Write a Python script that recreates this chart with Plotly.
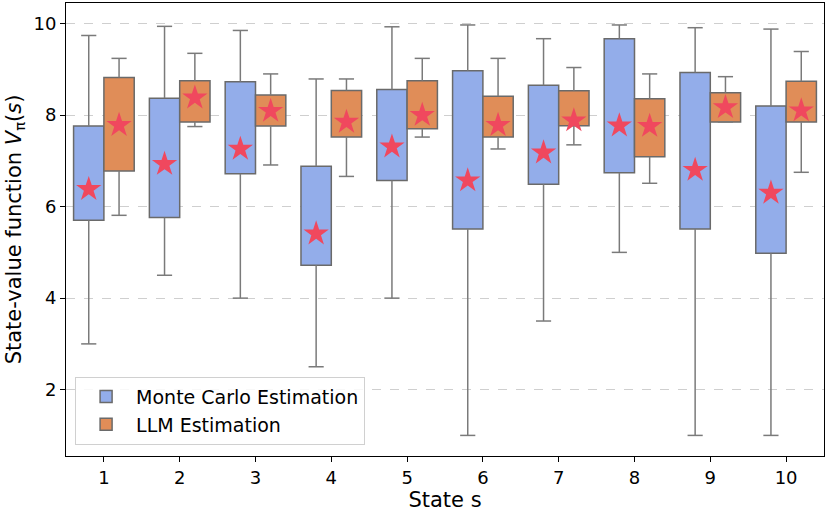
import plotly.graph_objects as go

states = [1, 2, 3, 4, 5, 6, 7, 8, 9, 10]

mc_lower = [3.0, 4.5, 4.0, 2.5, 4.0, 1.0, 3.5, 5.0, 1.0, 1.0]
mc_q1 = [5.70, 5.76, 6.72, 4.72, 6.57, 5.51, 6.49, 6.74, 5.51, 4.98]
mc_q3 = [7.76, 8.37, 8.73, 6.88, 8.56, 8.97, 8.65, 9.67, 8.93, 8.20]
mc_upper = [9.74, 9.94, 9.85, 8.79, 9.93, 9.97, 9.67, 9.97, 9.91, 9.88]
mc_mean = [6.38, 6.93, 7.26, 5.41, 7.31, 6.57, 7.18, 7.77, 6.80, 6.30]

llm_lower = [5.81, 7.75, 6.91, 6.66, 7.52, 7.26, 7.35, 6.51, 7.85, 6.75]
llm_q1 = [6.78, 7.85, 7.76, 7.52, 7.70, 7.52, 7.77, 7.09, 7.85, 7.85]
llm_q3 = [8.82, 8.75, 8.44, 8.54, 8.75, 8.41, 8.53, 8.36, 8.49, 8.74]
llm_upper = [9.24, 9.35, 8.90, 8.79, 9.24, 9.24, 9.04, 8.90, 8.84, 9.39]
llm_mean = [7.78, 8.38, 8.09, 7.85, 8.00, 7.78, 7.88, 7.76, 8.17, 8.10]

BOX_W = 0.4
CAP_W = 0.2
EDGE = "#6a6a6a"
WHISK = "#7a7a7a"

fig = go.Figure()


def add_series(name, color, lower, q1, q3, upper, mean, shift):
    xs = [s + shift for s in states]
    wx, wy = [], []
    for x, lo, a, b, hi in zip(xs, lower, q1, q3, upper):
        wx += [x, x, None, x, x, None,
               x - CAP_W / 2, x + CAP_W / 2, None, x - CAP_W / 2, x + CAP_W / 2, None]
        wy += [lo, a, None, b, hi, None, lo, lo, None, hi, hi, None]
    fig.add_trace(go.Scatter(x=wx, y=wy, mode="lines", line=dict(color=WHISK, width=1.5),
                             showlegend=False, hoverinfo="skip"))
    fig.add_trace(go.Bar(x=xs, y=[b - a for a, b in zip(q1, q3)], base=q1, width=BOX_W,
                         name=name, marker=dict(color=color, line=dict(color=EDGE, width=1.5))))
    fig.add_trace(go.Scatter(x=xs, y=mean, mode="markers", showlegend=False,
                             marker=dict(symbol="star", size=19, color="#f0485e",
                                         line=dict(width=0))))


add_series("Monte Carlo Estimation", "#93adea", mc_lower, mc_q1, mc_q3, mc_upper, mc_mean, -0.2)
add_series("LLM Estimation", "#e08d58", llm_lower, llm_q1, llm_q3, llm_upper, llm_mean, 0.2)

font = "DejaVu Sans, Arial, sans-serif"
fig.update_layout(
    width=831, height=516,
    margin=dict(l=66, r=7, t=3, b=60),
    paper_bgcolor="white", plot_bgcolor="white",
    barmode="overlay",
    font=dict(family=font, size=18, color="black"),
    legend=dict(x=0.012, y=0.025, xanchor="left", yanchor="bottom",
                bgcolor="rgba(255,255,255,0.85)", bordercolor="#d0d0d0", borderwidth=1,
                font=dict(size=19), traceorder="normal", tracegroupgap=2,
                itemwidth=50),
)
fig.update_xaxes(range=[0.5, 10.5], tickmode="array", tickvals=states,
                 ticktext=[str(s) for s in states], automargin=False,
                 showgrid=False, zeroline=False, showline=True, mirror=True,
                 linecolor="black", linewidth=1, ticks="outside", ticklen=5,
                 tickcolor="black", tickfont=dict(size=18),
                 title=dict(text="State s", font=dict(size=21), standoff=4))
fig.update_yaxes(range=[0.55, 10.45], tickvals=[2, 4, 6, 8, 10], automargin=False,
                 showgrid=True, gridcolor="#cfcfcf", griddash="dash", gridwidth=1,
                 zeroline=False, showline=True, mirror=True,
                 linecolor="black", linewidth=1, ticks="outside", ticklen=5,
                 tickcolor="black", tickfont=dict(size=18),
                 title=dict(text="State-value function <i>V</i><sub>π</sub>(<i>s</i>)",
                            font=dict(size=21), standoff=6))

fig.write_html("out.html", config={"displayModeBar": False},
               post_script="document.body.style.margin='0px';")
